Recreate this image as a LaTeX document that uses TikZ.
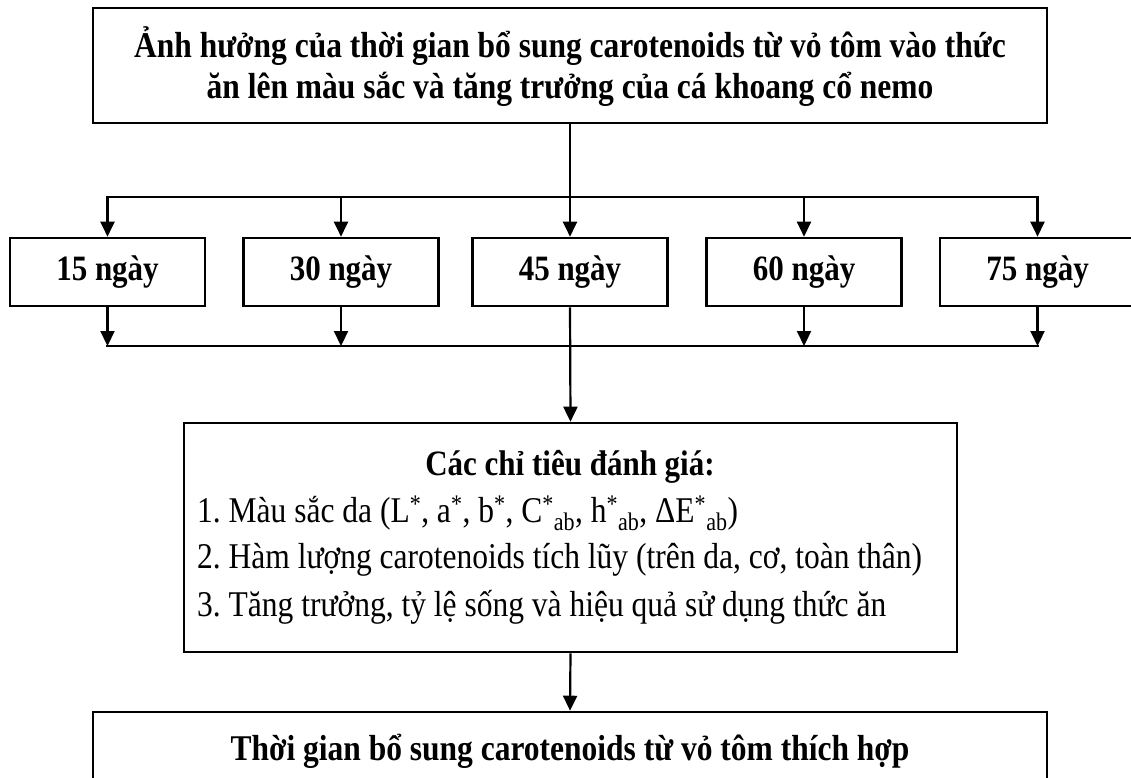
\documentclass[tikz,border=0pt]{standalone}
\usepackage{fontspec}
\usepackage{graphicx}
\setmainfont{Liberation Serif}
\usetikzlibrary{arrows.meta}
% slightly tall lettering
\newcommand{\tallline}[1]{\scalebox{1}[1.15]{#1}}

\begin{document}
\frenchspacing
\begin{tikzpicture}[x=1pt,y=-1pt,
  box/.style={draw=black,line width=2.6pt,rectangle,inner sep=0pt},
  daybox/.style={box,minimum width=195pt,minimum height=68pt,
    font=\fontsize{31}{34}\selectfont\bfseries},
  link/.style={line width=2.2pt},
  arr/.style={link,-{Triangle[length=15pt,width=14pt]}},
  headtxt/.style={font=\fontsize{31.5}{41}\selectfont\bfseries,align=center,inner sep=0pt},
  itemtxt/.style={font=\fontsize{31.5}{34}\selectfont,anchor=west,inner sep=0pt}]
  % page frame
  \useasboundingbox (0,0) rectangle (1131,778);
  \clip (0,0) rectangle (1131,778);

  % title box
  \node[box,minimum width=954pt,minimum height=115pt] (top) at (570,65.5) {};
  \node[headtxt] (toptxt) at (570,67)
    {\tallline{Ảnh hưởng của thời gian bổ sung carotenoids từ vỏ tôm vào thức}\\
     \tallline{ăn lên màu sắc và tăng trưởng của cá khoang cổ nemo}};

  % treatment boxes
  \node[daybox] (d15) at (107.5,272) {\tallline{15 ngày}};
  \node[daybox] (d30) at (341,272) {\tallline{30 ngày}};
  \node[daybox] (d45) at (570,272) {\tallline{45 ngày}};
  \node[daybox] (d60) at (804,272) {\tallline{60 ngày}};
  \node[daybox] (d75) at (1037.5,272) {\tallline{75 ngày}};

  % evaluation box
  \node[box,minimum width=773pt,minimum height=229pt] (crit) at (570.5,537.5) {};
  \node[font=\fontsize{31}{34}\selectfont\bfseries,inner sep=0pt] (crit0) at (570,467)
    {\tallline{Các chỉ tiêu đánh giá:}};
  \node[itemtxt] (crit1) at (197,513)
    {\tallline{1. Màu sắc da (L\textsuperscript{*}, a\textsuperscript{*}, b\textsuperscript{*},
     C\textsuperscript{*}\textsubscript{ab}, h\textsuperscript{*}\textsubscript{ab},
     ΔE\textsuperscript{*}\textsubscript{ab})}};
  \node[itemtxt] (crit2) at (197,560)
    {\tallline{2. Hàm lượng carotenoids tích lũy (trên da, cơ, toàn thân)}};
  \node[itemtxt] (crit3) at (197,607)
    {\tallline{3. Tăng trưởng, tỷ lệ sống và hiệu quả sử dụng thức ăn}};

  % result box
  \node[box,minimum width=954pt,minimum height=80pt] (res) at (570,752) {};
  \node[headtxt] (restxt) at (570,751)
    {\tallline{Thời gian bổ sung carotenoids từ vỏ tôm thích hợp}};

  % distribution bus
  \coordinate (busA) at (570,197);
  \draw[link] (top.south) -- (busA);
  \draw[link,line cap=rect] (d15.north |- busA) -- (d75.north |- busA);
  \foreach \d in {d15,d30,d45,d60,d75}
    \draw[arr] (\d.north |- busA) -- (\d.north);

  % collection bus
  \coordinate (busB) at (570,346);
  \draw[link,line cap=rect] (d15.south |- busB) -- (d75.south |- busB);
  \foreach \d in {d15,d30,d60,d75}
    \draw[arr] (\d.south) -- (\d.south |- busB);
  \draw[arr] (d45.south) -- (crit.north);

  % to the result
  \draw[arr] (crit.south) -- (res.north);
\end{tikzpicture}
\end{document}
